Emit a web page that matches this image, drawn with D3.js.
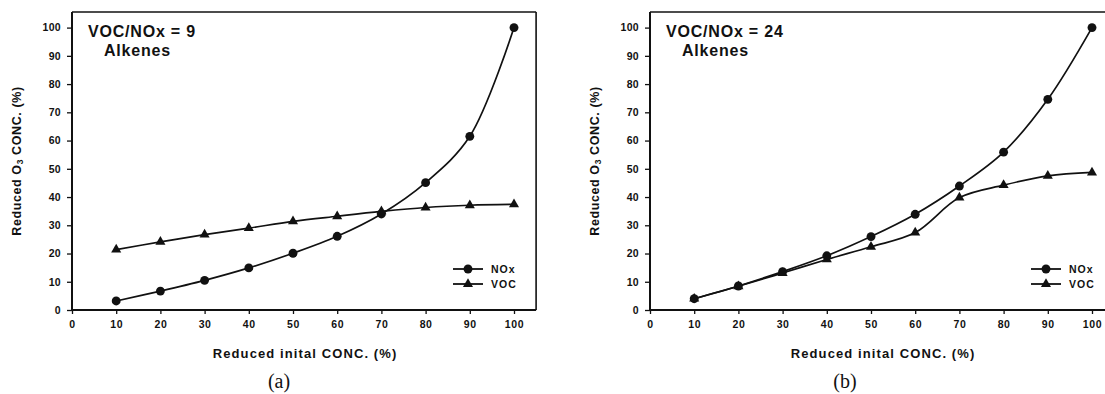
<!DOCTYPE html>
<html><head><meta charset="utf-8">
<script src="https://cdn.jsdelivr.net/npm/d3@7"></script>
<style>
html,body{margin:0;padding:0;background:#fff;}
svg{display:block;}
text{font-family:Arial,"Liberation Sans",sans-serif;fill:#111;}
text.tag{font-family:"Liberation Serif","Times New Roman",serif;}
</style></head>
<body>
<svg id="chart" width="1105" height="394"></svg>
<script>
const xValues = [10,20,30,40,50,60,70,80,90,100];
const xTicks = [0,10,20,30,40,50,60,70,80,90,100];
const yTicks = [0,10,20,30,40,50,60,70,80,90,100];
const noxA = [3.2,6.7,10.5,14.9,20.1,26.1,34.0,45.1,61.5,100];
const vocA = [21.4,24.1,26.7,29.0,31.4,33.2,34.9,36.3,37.1,37.4];
const noxB = [4.0,8.5,13.6,19.2,26.0,33.9,43.9,55.9,74.6,100];
const vocB = [4.0,8.4,13.1,17.9,22.4,27.4,39.8,44.2,47.5,48.7];
const seriesNames = ["NOx","VOC"];
const panelTitles = [["VOC/NOx = 9","Alkenes"],["VOC/NOx = 24","Alkenes"]];
const panelTags = ["(a)","(b)"];
const xLabel = "Reduced inital CONC. (%)";

const svg = d3.select("#chart");
const panels = [
  {left:72, nox:noxA, voc:vocA, title:panelTitles[0], tag:panelTags[0], tagX:279},
  {left:650, nox:noxB, voc:vocB, title:panelTitles[1], tag:panelTags[1], tagX:845}
];
const yTop = 12, yBottom = 310;
const unit = 4.42;

panels.forEach((p,i)=>{
  const x = d3.scaleLinear().domain([0,105]).range([p.left, p.left+105*unit]);
  const y = d3.scaleLinear().domain([0,100]).range([yBottom, 27.6]);
  const g = svg.append("g");

  g.append("line").attr("x1",x(0)).attr("x2",x(105)).attr("y1",yTop).attr("y2",yTop)
    .attr("stroke","#111").attr("stroke-width",1.6);
  g.append("line").attr("x1",x(105)).attr("x2",x(105)).attr("y1",yTop).attr("y2",yBottom)
    .attr("stroke","#111").attr("stroke-width",1.6);

  const xa = g.append("g").attr("transform",`translate(0,${yBottom})`)
    .call(d3.axisBottom(x).tickValues(xTicks).tickSize(4).tickPadding(7).tickSizeOuter(0));
  xa.select(".domain").attr("stroke","#111").attr("stroke-width",2.2).attr("d",`M${x(0)},0H${x(105)}`);
  xa.selectAll(".tick line").attr("stroke","#111").attr("stroke-width",1.3);
  xa.selectAll(".tick text").attr("font-size","10.5px").attr("font-weight","bold").attr("letter-spacing","0.6px").attr("fill","#111");

  const ya = g.append("g").attr("transform",`translate(${x(0)},0)`)
    .call(d3.axisLeft(y).tickValues(yTicks).tickSize(5).tickPadding(6).tickSizeOuter(0));
  ya.select(".domain").attr("stroke","#111").attr("stroke-width",2).attr("d",`M0,${yTop}V${yBottom}`);
  ya.selectAll(".tick line").attr("stroke","#111").attr("stroke-width",1.3);
  ya.selectAll(".tick text").attr("font-size","10.5px").attr("font-weight","bold").attr("letter-spacing","0.3px").attr("fill","#111");

  const ylab = g.append("text")
    .attr("transform",`translate(${p.left-51},${161}) rotate(-90)`)
    .attr("text-anchor","middle").attr("font-size","12.5px").attr("font-weight","bold").attr("letter-spacing","0.6px");
  ylab.append("tspan").text("Reduced O");
  ylab.append("tspan").attr("font-size","8.5px").attr("dy","2").text("3");
  ylab.append("tspan").attr("dy","-2").text(" CONC. (%)");

  g.append("text").attr("x",(x(0)+x(105))/2 + 1).attr("y",358)
    .attr("text-anchor","middle").attr("font-size","13px").attr("font-weight","bold").attr("letter-spacing","1.1px")
    .text(xLabel);

  g.append("text").attr("class","tag").attr("x",p.tagX).attr("y",388).attr("text-anchor","middle")
    .attr("font-size","20px").text(p.tag);

  g.append("text").attr("x",x(0)+16).attr("y",37).attr("font-size","16px").attr("font-weight","bold")
    .attr("letter-spacing","0.8px").text(p.title[0]);
  g.append("text").attr("x",x(0)+32).attr("y",56).attr("font-size","16px").attr("font-weight","bold")
    .attr("letter-spacing","0.8px").text(p.title[1]);

  const line = d3.line().x((d,k)=>x(xValues[k])).y(d=>y(d)).curve(d3.curveCatmullRom.alpha(0.5));
  [p.nox,p.voc].forEach((vals,si)=>{
    g.append("path").attr("d",line(vals)).attr("fill","none").attr("stroke","#111").attr("stroke-width",1.7);
    const sym = d3.symbol().type(si===0?d3.symbolCircle:d3.symbolTriangle).size(si===0?62:44);
    g.selectAll(null).data(vals).enter().append("path")
      .attr("d",sym).attr("transform",(d,k)=>`translate(${x(xValues[k])},${y(d)})`)
      .attr("fill","#111");
  });

  const lx = x(0) + 381;
  seriesNames.forEach((name,si)=>{
    const ly = 269 + si*15;
    g.append("line").attr("x1",lx).attr("x2",lx+30).attr("y1",ly).attr("y2",ly)
      .attr("stroke","#111").attr("stroke-width",1.8);
    const sym = d3.symbol().type(si===0?d3.symbolCircle:d3.symbolTriangle).size(si===0?62:44);
    g.append("path").attr("d",sym).attr("transform",`translate(${lx+15},${ly})`).attr("fill","#111");
    g.append("text").attr("x",lx+38).attr("y",ly+4).attr("font-size","10.5px").attr("font-weight","bold")
      .attr("letter-spacing","1px").text(name);
  });
});
</script>
</body></html>
